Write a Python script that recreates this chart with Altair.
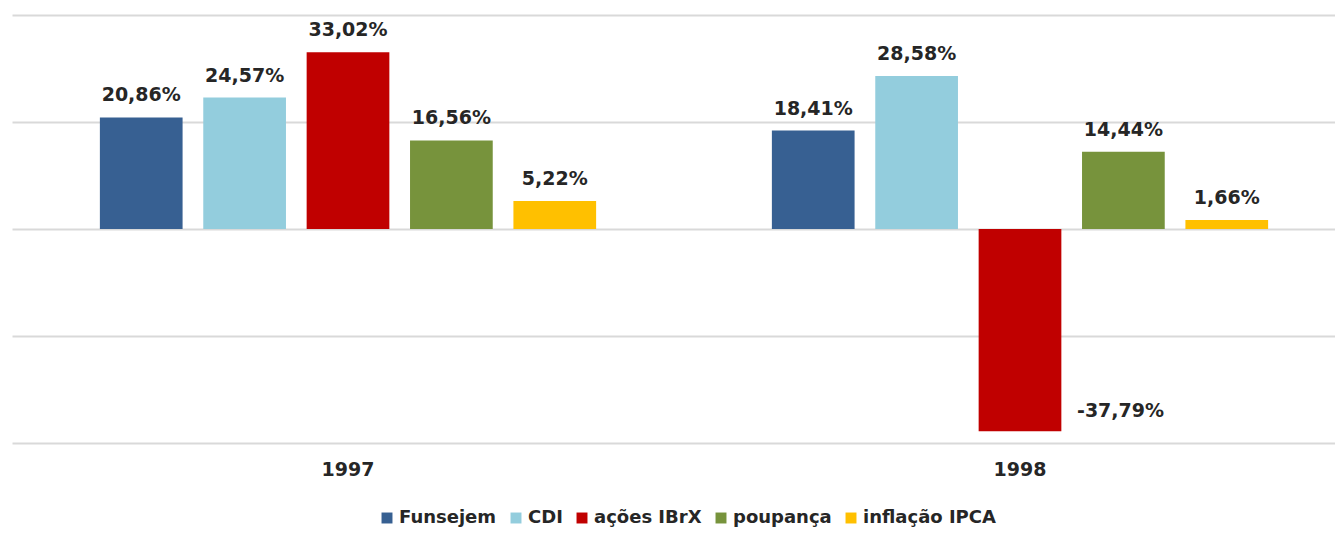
import altair as alt
import pandas as pd

years = ["1997", "1998"]
series = ["Funsejem", "CDI", "ações IBrX", "poupança", "inflação IPCA"]
colors = ["#376092", "#93CDDD", "#C00000", "#77933C", "#FFC000"]
values_1997 = [20.86, 24.57, 33.02, 16.56, 5.22]
values_1998 = [18.41, 28.58, -37.79, 14.44, 1.66]

rows = []
for y, vals in zip(years, [values_1997, values_1998]):
    for s, v in zip(series, vals):
        rows.append({"year": y, "series": s, "value": v,
                     "label": f"{v:.2f}".replace(".", ",") + "%"})
df = pd.DataFrame(rows)

FONT = "DejaVu Sans"
TXT = "#262626"

x = alt.X("year:N", title=None, sort=years,
          scale=alt.Scale(paddingInner=0, paddingOuter=0, range=[0, 1344]),
          axis=alt.Axis(labelAngle=0, ticks=False, domain=False, labelPadding=17,
                        labelFont=FONT, labelFontSize=19, labelFontWeight="bold",
                        labelColor=TXT, grid=False))
xo = alt.XOffset("series:N", sort=series,
                 scale=alt.Scale(paddingInner=0.2, paddingOuter=0.85))
y = alt.Y("value:Q", title=None,
          scale=alt.Scale(domain=[-40, 40], nice=False),
          axis=alt.Axis(values=[-40, -20, 0, 20, 40], labels=False, ticks=False,
                        domain=False, grid=True, gridColor="#D9D9D9", gridWidth=2))

base = alt.Chart(df)

bars = base.mark_bar().encode(
    x=x, xOffset=xo, y=y,
    color=alt.Color("series:N", sort=series,
                    scale=alt.Scale(domain=series, range=colors),
                    legend=alt.Legend(title=None, orient="none", direction="horizontal",
                                      legendX=366, legendY=494,
                                      symbolType="square", symbolSize=120,
                                      symbolStrokeWidth=0, labelFont=FONT,
                                      labelFontSize=18, labelFontWeight="bold",
                                      labelColor=TXT, columnPadding=10,
                                      symbolOffset=0, labelOffset=3)),
)

pos_text = base.transform_filter("datum.value >= 0").mark_text(
    font=FONT, fontSize=19, fontWeight="bold", color=TXT,
    baseline="alphabetic", dy=-16
).encode(x=x, xOffset=xo, y=y, text="label:N")

neg_text = base.transform_filter("datum.value < 0").mark_text(
    font=FONT, fontSize=19, fontWeight="bold", color=TXT,
    baseline="middle", align="left", dx=57, dy=-20
).encode(x=x, xOffset=xo, y=y, text="label:N")

chart = alt.layer(bars, pos_text, neg_text).properties(
    width=1323, height=428,
    autosize=alt.AutoSizeParams(type="none"),
    padding={"left": 4, "top": 7, "right": 0, "bottom": 87},
).configure_view(stroke=None).configure_axis(labelFont=FONT)

chart.save("out.html", embed_options={"renderer": "svg", "actions": False})
